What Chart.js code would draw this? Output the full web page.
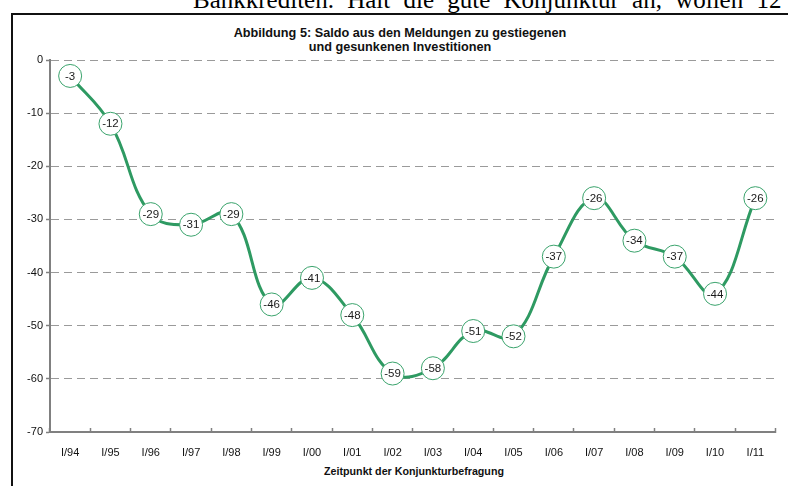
<!DOCTYPE html>
<html>
<head>
    <title>Saldo Investitionen</title>
    <script src="https://cdn.jsdelivr.net/npm/chart.js"></script>
    <style>
        body { margin: 0; width: 788px; height: 486px; overflow: hidden; position: relative; background: #fff; font-family: 'Liberation Sans', Arial, sans-serif; }
        #topline { position: absolute; left: 193px; top: -14px; font: 25px 'Liberation Serif', 'Times New Roman', serif; white-space: nowrap; word-spacing: 7px; color: #000; }
        #frame { position: absolute; left: 11px; top: 13px; width: 800px; height: 500px; border-left: 2px solid #111; border-top: 2px solid #111; }
        .title { position: absolute; left: 0; width: 800px; text-align: center; font-weight: bold; font-size: 12.7px; color: #111; }
        #xtitle { position: absolute; left: 0; width: 828px; top: 465px; text-align: center; font-weight: bold; font-size: 10.7px; color: #111; }
        #myChart { position: absolute; left: 0; top: 0; }
    </style>
</head>
<body>
    <div id="topline">Bankkrediten. Hält die gute Konjunktur an, wollen 12</div>
    <div id="frame"></div>
    <div class="title" style="top:26px">Abbildung 5: Saldo aus den Meldungen zu gestiegenen</div>
    <div class="title" style="top:40px">und gesunkenen Investitionen</div>
    <div id="xtitle">Zeitpunkt der Konjunkturbefragung</div>
    <canvas id="myChart" width="788" height="486"></canvas>

    <script>
        var labels = ['I/94', 'I/95', 'I/96', 'I/97', 'I/98', 'I/99', 'I/00', 'I/01', 'I/02',
                      'I/03', 'I/04', 'I/05', 'I/06', 'I/07', 'I/08', 'I/09', 'I/10', 'I/11'];
        var saldo = [-3, -12, -29, -31, -29, -46, -41, -48, -59, -58, -51, -52, -37, -26, -34, -37, -44, -26];
        var yTicks = [0, -10, -20, -30, -40, -50, -60, -70];

        // draws the value inside each point circle
        var valueLabels = {
            id: 'valueLabels',
            afterDatasetsDraw: function(chart) {
                var ctx = chart.ctx;
                var meta = chart.getDatasetMeta(0);
                ctx.save();
                ctx.font = '11.5px "Liberation Sans", Arial, sans-serif';
                ctx.fillStyle = '#1a1a1a';
                ctx.textAlign = 'center';
                ctx.textBaseline = 'middle';
                meta.data.forEach(function(pt, i) {
                    ctx.fillText(String(saldo[i]), pt.x, pt.y + 0.5);
                });
                ctx.restore();
            }
        };

        var ctx = document.getElementById('myChart').getContext('2d');
        var myChart = new Chart(ctx, {
            type: 'line',
            data: {
                labels: labels,
                datasets: [{
                    data: saldo,
                    borderColor: '#2e9a62',
                    borderWidth: 3,
                    tension: 0.4,
                    pointRadius: 11.5,
                    pointBackgroundColor: '#fff',
                    pointBorderColor: '#3aa36c',
                    pointBorderWidth: 1
                }]
            },
            options: {
                responsive: false,
                animation: false,
                layout: { padding: { left: 0, top: 60, right: 8, bottom: 0 } },
                plugins: {
                    legend: { display: false },
                    tooltip: { enabled: false }
                },
                scales: {
                    x: {
                        offset: true,
                        grid: { offset: true, drawOnChartArea: false, tickLength: -4, tickColor: '#808080', tickWidth: 1.5 },
                        border: { color: '#808080', width: 2 },
                        ticks: {
                            padding: 18,
                            maxRotation: 0,
                            autoSkip: false,
                            color: '#111',
                            font: { family: '"Liberation Sans", Arial, sans-serif', size: 11 }
                        },
                        afterFit: function(scale) { scale.height = 54; }
                    },
                    y: {
                        min: -70,
                        max: 0,
                        afterBuildTicks: function(scale) {
                            scale.ticks = yTicks.map(function(v) { return { value: v }; });
                        },
                        grid: { color: '#9a9a9a', lineWidth: 1, tickLength: 4, tickColor: '#808080', tickWidth: 1.5 },
                        border: { color: '#808080', width: 2, dash: [8, 5] },
                        ticks: {
                            padding: 3,
                            color: '#111',
                            font: { family: '"Liberation Sans", Arial, sans-serif', size: 11 }
                        },
                        afterFit: function(scale) { scale.width = 50; }
                    }
                }
            },
            plugins: [valueLabels]
        });
    </script>
</body>
</html>
